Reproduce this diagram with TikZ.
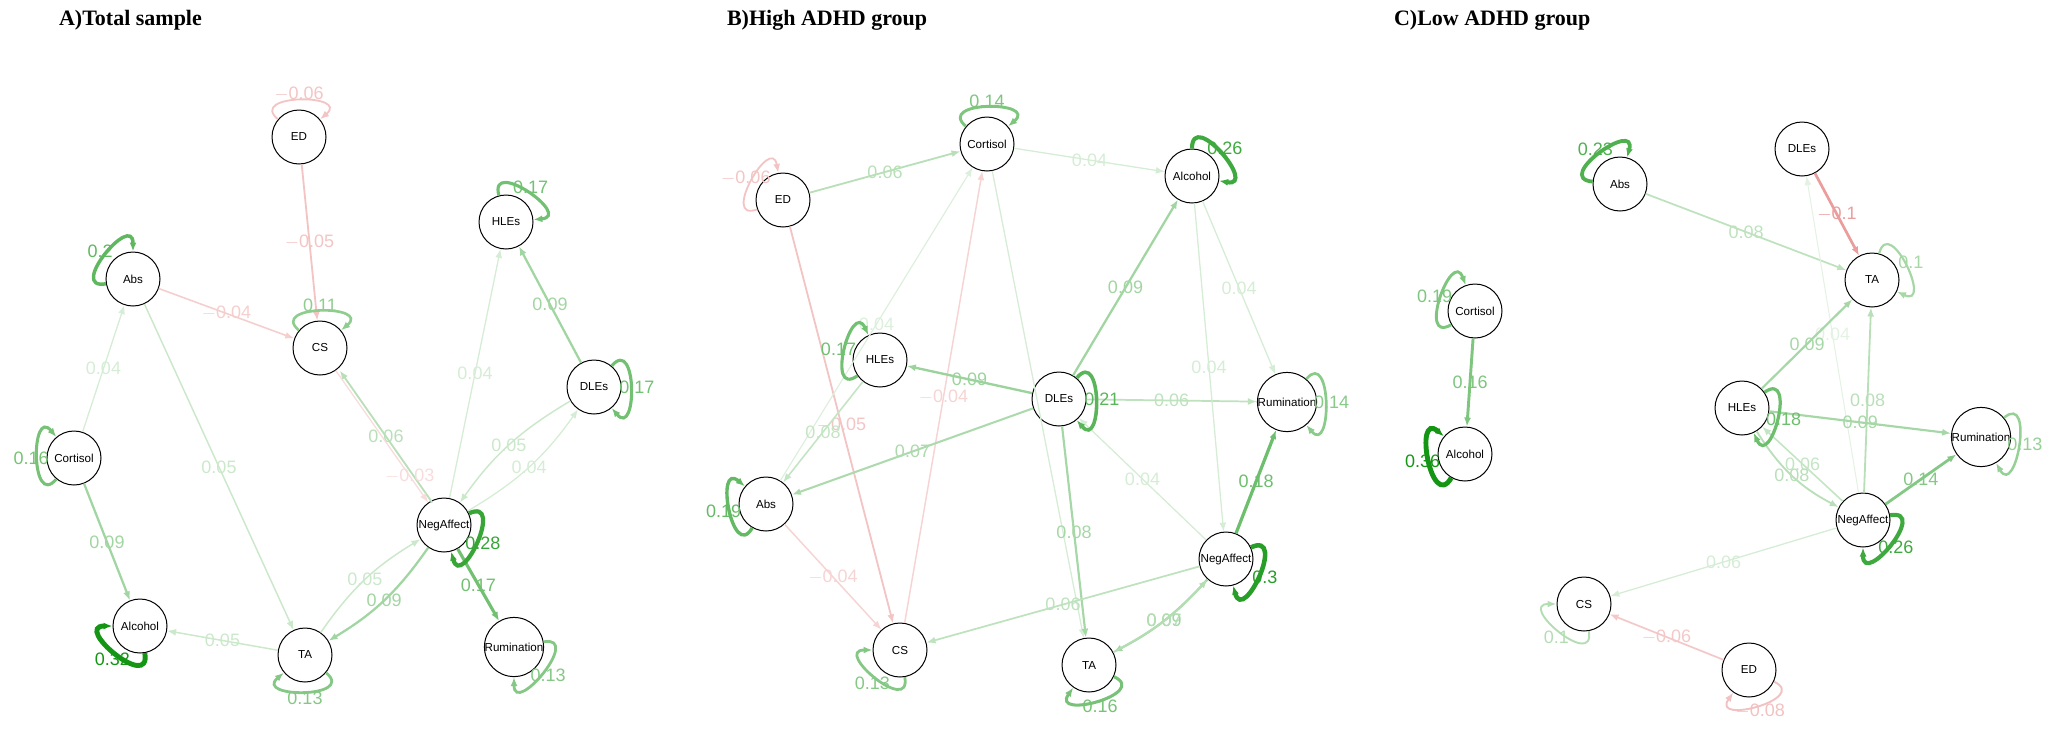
\documentclass[tikz,border=0pt]{standalone}
\usepackage{fontspec}
\setmainfont{Liberation Sans}
\newfontfamily\titlefont{Liberation Serif}
\usetikzlibrary{arrows.meta}
\definecolor{pg}{RGB}{20,150,20}
\definecolor{ng}{RGB}{215,60,60}
\tikzset{
 nd/.style={circle,draw,line width=0.5pt,minimum size=27pt,inner sep=0pt,font=\fontsize{5.8}{6}\selectfont},
 lab/.style={font=\fontsize{9}{9}\selectfont,inner sep=0pt},
 pe/.style={draw=pg!#1!white,text=pg!#1!white,line width=0.25pt+#1*0.022pt,-{Latex[length=4.5pt,width=3.5pt]}},
 ne/.style={draw=ng!#1!white,text=ng!#1!white,line width=0.25pt+#1*0.022pt,-{Latex[length=4.5pt,width=3.5pt]}},
 ttl/.style={anchor=west,font=\titlefont\bfseries\fontsize{11}{11}\selectfont}
}
\newcommand\E[5][]{\draw[#5,#1] (#2) to node[lab]{#4} (#3);}
\newcommand\Lp[4]{\pgfmathsetmacro\la{#2+50}\pgfmathsetmacro\lb{#2-50}%
 \draw[#4] (#1) to[out=\la,in=\lb,distance=20pt] node[lab,shift={(#2:3pt)}]{#3} (#1);}
\begin{document}
\begin{tikzpicture}[x=0.5pt,y=0.5pt]
\useasboundingbox (0,0) rectangle (2056,-734);
\node[ttl] at (52,-20) {A)Total sample};
\node[ttl] at (720,-20) {B)High ADHD group};
\node[ttl] at (1387,-20) {C)Low ADHD group};
% ---------- Panel A
\node[nd] (aED) at (299,-137) {ED};
\node[nd] (aAbs) at (133,-279) {Abs};
\node[nd] (aCS) at (320,-348) {CS};
\node[nd] (aHLEs) at (506,-222) {HLEs};
\node[nd] (aDLEs) at (594,-387) {DLEs};
\node[nd] (aCort) at (74,-458) {Cortisol};
\node[nd] (aNA) at (444,-525) {NegAffect};
\node[nd] (aAlc) at (140,-626) {Alcohol};
\node[nd] (aTA) at (305,-655) {TA};
\node[nd] (aRum) at (514,-647) {Rumination};
\E{aED}{aCS}{$-$0.05}{ne=30}
\E{aAbs}{aCS}{$-$0.04}{ne=25}
\E{aCort}{aAbs}{0.04}{pe=18}
\E{aAbs}{aTA}{0.05}{pe=22}
\E{aCort}{aAlc}{0.09}{pe=40}
\E{aTA}{aAlc}{0.05}{pe=22}
\E[bend left=12]{aNA}{aTA}{0.09}{pe=40}
\E[bend left=12]{aTA}{aNA}{0.05}{pe=22}
\E[transform canvas={shift={(2pt,0pt)}}]{aNA}{aCS}{0.06}{pe=30}
\draw[ne=18] (aCS) to node[lab,pos=0.8]{$-$0.03} (aNA);
\E{aNA}{aHLEs}{0.04}{pe=18}
\E{aDLEs}{aHLEs}{0.09}{pe=40}
\E[bend right=12]{aDLEs}{aNA}{0.05}{pe=22}
\E[bend right=12]{aNA}{aDLEs}{0.04}{pe=18}
\E{aNA}{aRum}{0.17}{pe=60}
\Lp{aED}{90}{$-$0.06}{ne=30}
\Lp{aAbs}{140}{0.2}{pe=68}
\Lp{aCS}{90}{0.11}{pe=48}
\Lp{aHLEs}{55}{0.17}{pe=60}
\Lp{aDLEs}{0}{0.17}{pe=60}
\Lp{aCort}{180}{0.16}{pe=58}
\Lp{aNA}{-25}{0.28}{pe=85}
\Lp{aAlc}{230}{0.32}{pe=100}
\Lp{aTA}{270}{0.13}{pe=52}
\Lp{aRum}{-40}{0.13}{pe=52}
% ---------- Panel B
\node[nd] (bED) at (783,-200) {ED};
\node[nd] (bCort) at (987,-144) {Cortisol};
\node[nd] (bHLEs) at (880,-360) {HLEs};
\node[nd] (bDLEs) at (1059,-399) {DLEs};
\node[nd] (bAbs) at (766,-504) {Abs};
\node[nd] (bCS) at (900,-650) {CS};
\node[nd] (bTA) at (1089,-665) {TA};
\node[nd] (bAlc) at (1192,-176) {Alcohol};
\node[nd] (bRum) at (1287,-402) {Rumination};
\node[nd] (bNA) at (1226,-559) {NegAffect};
\E{bED}{bCort}{0.06}{pe=30}
\E{bED}{bCS}{$-$0.05}{ne=30}
\E{bCort}{bAlc}{0.04}{pe=18}
\draw[pe=18] (bCort) -- (bTA);
\E{bAbs}{bCort}{0.04}{pe=15}
\E{bCS}{bCort}{$-$0.04}{ne=22}
\E{bDLEs}{bHLEs}{0.09}{pe=42}
\E{bHLEs}{bAbs}{0.08}{pe=25}
\E{bDLEs}{bAbs}{0.07}{pe=35}
\E{bAbs}{bCS}{$-$0.04}{ne=22}
\E{bDLEs}{bAlc}{0.09}{pe=40}
\E{bDLEs}{bRum}{0.06}{pe=28}
\E{bDLEs}{bTA}{0.08}{pe=38}
\E{bAlc}{bNA}{0.04}{pe=18}
\E{bAlc}{bRum}{0.04}{pe=18}
\E{bNA}{bDLEs}{0.04}{pe=18}
\E{bNA}{bRum}{0.18}{pe=62}
\E{bNA}{bCS}{0.06}{pe=28}
\E[bend left=10]{bNA}{bTA}{0.09}{pe=40}
\E[bend right=10]{bTA}{bNA}{0.07}{pe=32}
\Lp{bED}{150}{$-$0.06}{ne=30}
\Lp{bCort}{90}{0.14}{pe=55}
\Lp{bAlc}{40}{0.26}{pe=82}
\Lp{bHLEs}{165}{0.17}{pe=60}
\Lp{bDLEs}{0}{0.21}{pe=70}
\Lp{bRum}{0}{0.14}{pe=50}
\Lp{bAbs}{190}{0.19}{pe=66}
\Lp{bNA}{-25}{0.3}{pe=92}
\Lp{bCS}{230}{0.13}{pe=52}
\Lp{bTA}{-75}{0.16}{pe=58}
% ---------- Panel C
\node[nd] (cAbs) at (1620,-184) {Abs};
\node[nd] (cDLEs) at (1802,-149) {DLEs};
\node[nd] (cTA) at (1872,-280) {TA};
\node[nd] (cCort) at (1475,-311) {Cortisol};
\node[nd] (cAlc) at (1465,-454) {Alcohol};
\node[nd] (cHLEs) at (1742,-408) {HLEs};
\node[nd] (cRum) at (1981,-437) {Rumination};
\node[nd] (cNA) at (1863,-520) {NegAffect};
\node[nd] (cCS) at (1584,-604) {CS};
\node[nd] (cED) at (1749,-670) {ED};
\E{cAbs}{cTA}{0.08}{pe=28}
\E{cDLEs}{cTA}{$-$0.1}{ne=50}
\E{cNA}{cDLEs}{0.04}{pe=12}
\E{cHLEs}{cTA}{0.09}{pe=38}
\E{cNA}{cTA}{0.08}{pe=30}
\E{cHLEs}{cRum}{0.09}{pe=38}
\E{cNA}{cHLEs}{0.06}{pe=25}
\E[bend right=15]{cHLEs}{cNA}{0.08}{pe=30}
\E{cNA}{cRum}{0.14}{pe=52}
\E{cNA}{cCS}{0.06}{pe=18}
\E{cED}{cCS}{$-$0.06}{ne=28}
\E{cCort}{cAlc}{0.16}{pe=55}
\Lp{cAbs}{125}{0.23}{pe=75}
\Lp{cTA}{25}{0.1}{pe=38}
\Lp{cCort}{160}{0.19}{pe=55}
\Lp{cAlc}{190}{0.36}{pe=100}
\Lp{cHLEs}{-15}{0.18}{pe=62}
\Lp{cRum}{-10}{0.13}{pe=45}
\Lp{cNA}{-40}{0.26}{pe=82}
\Lp{cCS}{230}{0.1}{pe=32}
\Lp{cED}{-75}{$-$0.08}{ne=32}
\end{tikzpicture}
\end{document}
